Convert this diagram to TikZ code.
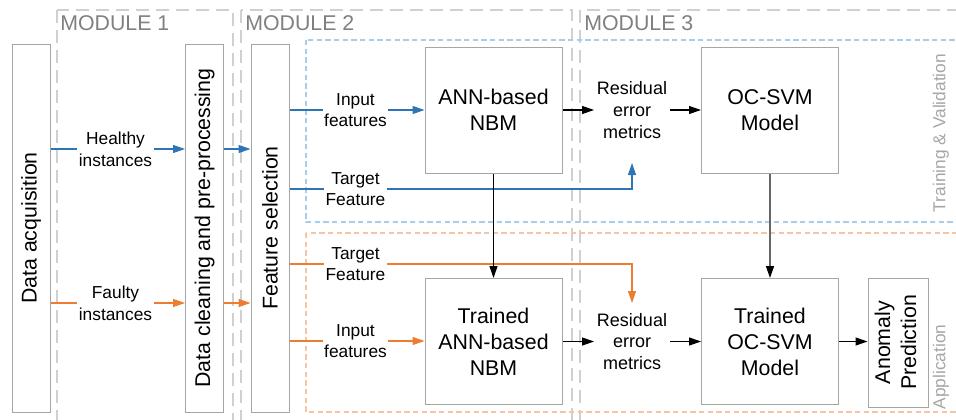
\documentclass[tikz,border=0pt]{standalone}
\usepackage{fontspec}
\setmainfont{Liberation Sans}
\usepackage{graphicx}
\usetikzlibrary{arrows.meta,positioning}
\definecolor{boxgray}{HTML}{A6A6A6}
\definecolor{modgray}{HTML}{D0D0D0}
\definecolor{modtext}{HTML}{808080}
\definecolor{trainblue}{HTML}{2E75B6}
\definecolor{applorange}{HTML}{ED7D31}
\definecolor{trainframe}{HTML}{A9CCE8}
\definecolor{applframe}{HTML}{F5C6A5}
\tikzset{block node/.style={draw=boxgray,fill=white,line width=0.75pt,align=center,inner sep=0pt,font=\fontsize{16}{19.5}\selectfont},
         tall node/.style={block node,minimum width=28.5pt,minimum height=276pt},
         square node/.style={block node,minimum width=102.75pt,minimum height=94.5pt},
         edge label/.style={align=center,inner sep=1pt,font=\fontsize{13}{16.3}\selectfont},
         metric node/.style={align=center,inner sep=2pt,font=\fontsize{13.5}{16.3}\selectfont},
         module frame/.style={draw=modgray,line width=1.1pt,dash pattern=on 10pt off 5pt},
         module title/.style={anchor=west,text=modtext,inner sep=0pt,font=\fontsize{16}{19}\selectfont},
         phase title/.style={rotate=90,text=boxgray,inner sep=0pt,font=\fontsize{13}{16}\selectfont},
         blue flow/.style={->,draw=trainblue,line width=0.8pt},
         orange flow/.style={->,draw=applorange,line width=0.8pt},
         black flow/.style={->,draw=black,line width=0.8pt},
         svm link/.style={-{Triangle[length=9pt,width=6pt,color=black]},draw=black!60,line width=1.1pt}
}

\begin{document}
\begin{tikzpicture}[x=0.75pt,y=-0.75pt,>={Triangle[length=9pt,width=6pt]}]

    \useasboundingbox (0,0) rectangle (956,419);
    \clip (0,0) rectangle (956,419);

    % modules and phases
    \draw[module frame] (57,10) rectangle (233,440);
    \draw[module frame] (241,10) rectangle (572,440);
    \draw[module frame] (580,10) rectangle (990,440);
    \draw[draw=trainframe,line width=0.8pt,dash pattern=on 4pt off 2.5pt] (306,40) rectangle (990,222);
    \draw[draw=applframe,line width=0.8pt,dash pattern=on 4pt off 2.5pt] (306,233) rectangle (990,412);

    \node[module title] (m1) at (60,23) {MODULE 1};
    \node[module title] (m2) at (245,23) {MODULE 2};
    \node[module title] (m3) at (584,23) {MODULE 3};
    \node[phase title] (train) at (941,133) {Training \& Validation};
    \node[phase title] (appl) at (941,367) {Application};

    % blocks
    \node[tall node] (acq) at (31,228) {\rotatebox{90}{Data acquisition}};
    \node[tall node] (clean) at (204.5,228) {\rotatebox{90}{Data cleaning and pre-processing}};
    \node[tall node] (fsel) at (270,228) {\rotatebox{90}{Feature selection}};
    \node[square node] (ann) at (493.5,110) {ANN-based\\NBM};
    \node[square node] (svm) at (770,110) {OC-SVM\\Model};
    \node[square node] (tann) at (493.5,341.5) {Trained\\ANN-based\\NBM};
    \node[square node] (tsvm) at (770,341.5) {Trained\\OC-SVM\\Model};
    \node[block node,minimum width=45pt,minimum height=96.75pt] (anom) at (898,342.5)
        {\rotatebox{90}{\begin{tabular}{@{}c@{}}Anomaly\\Prediction\end{tabular}}};
    \node[metric node] (res1) at (632,110) {Residual\\error\\metrics};
    \node[metric node] (res2) at (632,341.5) {Residual\\error\\metrics};

    % labels on the flows
    \node[edge label] (healthy) at (115.5,149) {Healthy\\instances};
    \node[edge label] (faulty) at (115.5,303) {Faulty\\instances};
    \node[edge label] (inblue) at (355.5,110) {Input\\features};
    \node[edge label] (tgtblue) at (355.5,189) {Target\\Feature};
    \node[edge label] (tgtorange) at (355.5,264) {Target\\Feature};
    \node[edge label] (inorange) at (355.5,341) {Input\\features};
    \coordinate (tgtblueend) at (632,163);
    \coordinate (tgtorangeend) at (632,303);

    % flows
    \draw[blue flow] (acq.east |- healthy) -- (healthy) -- (clean.west |- healthy);
    \draw[blue flow] (clean.east |- healthy) -- (fsel.west |- healthy);
    \draw[orange flow] (acq.east |- faulty) -- (faulty) -- (clean.west |- faulty);
    \draw[orange flow] (clean.east |- faulty) -- (fsel.west |- faulty);
    \draw[blue flow] (fsel.east |- inblue) -- (inblue) -- (ann);
    \draw[blue flow] (fsel.east |- tgtblue) -- (tgtblue) -| (tgtblueend);
    \draw[orange flow] (fsel.east |- tgtorange) -- (tgtorange) -| (tgtorangeend);
    \draw[orange flow] (fsel.east |- inorange) -- (inorange) -- (tann.west |- inorange);
    \draw[black flow] (ann) -- (res1);
    \draw[black flow] (res1) -- (svm);
    \draw[black flow] (ann) -- (tann);
    \draw[svm link] (svm) -- (tsvm);
    \draw[black flow] (tann) -- (res2);
    \draw[black flow] (res2) -- (tsvm);
    \draw[black flow] (tsvm) -- (anom.west |- tsvm);

\end{tikzpicture}
\end{document}
